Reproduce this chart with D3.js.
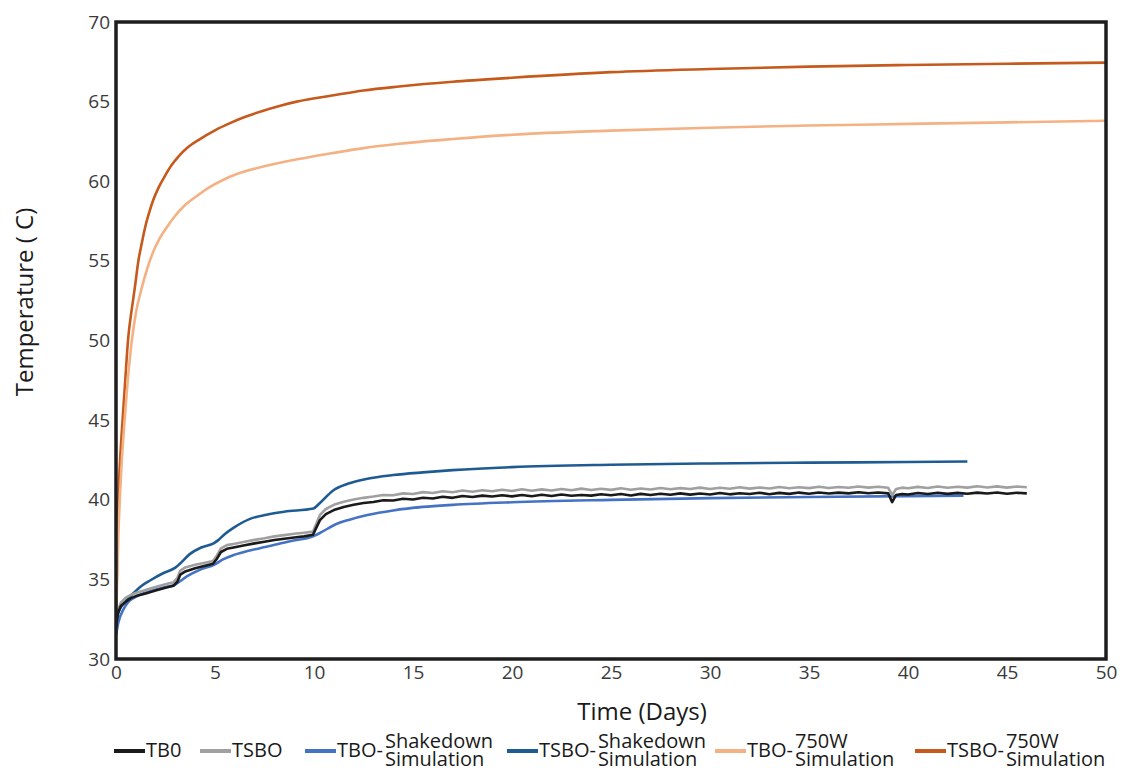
<!DOCTYPE html>
<html><head><meta charset="utf-8">
<script src="https://cdn.jsdelivr.net/npm/d3@7"></script>
<style>
html,body{margin:0;padding:0;background:#fff;}
svg{display:block;}
</style></head>
<body>
<svg id="chart" width="1125" height="771"></svg>
<script>
// ---------- data ----------
const xTicks = [0,5,10,15,20,25,30,35,40,45,50];
const yTicks = [30,35,40,45,50,55,60,65,70];

const seriesNames = ["TB0","TSBO","TBO-Shakedown Simulation","TSBO-Shakedown Simulation","TBO-750W Simulation","TSBO-750W Simulation"];
const seriesColors = ["#1a1a1a","#a0a0a0","#4472c4","#1f5b93","#f4b183","#c55a1c"];

const tb0 = [[0,32.0],[0.1,32.9],[0.25,33.35],[0.5,33.6],[0.75,33.82],[1,33.95],[1.5,34.12],[2,34.3],[2.5,34.48],[2.9,34.6],[3.1,34.85],[3.25,35.3],[3.5,35.5],[4,35.7],[4.5,35.86],[4.9,35.98],[5.1,36.3],[5.3,36.72],[5.6,36.92],[6,37.02],[6.5,37.14],[7,37.26],[7.5,37.36],[8,37.47],[8.5,37.55],[9,37.63],[9.5,37.7],[9.95,37.8],[10.1,38.2],[10.3,38.72],[10.6,39.1],[11,39.35],[11.5,39.55],[12,39.68],[12.5,39.8],[13,39.86],[13.5,39.97],[14,39.95],[14.5,40.06],[15,40.02],[15.5,40.13],[16,40.08],[16.5,40.19],[17,40.12],[17.5,40.24],[18,40.17],[18.5,40.26],[19,40.2],[19.5,40.28],[20,40.21],[20.5,40.3],[21,40.22],[21.5,40.31],[22,40.24],[22.5,40.33],[23,40.25],[23.5,40.3],[24,40.26],[24.5,40.35],[25,40.28],[25.5,40.36],[26,40.27],[26.5,40.37],[27,40.3],[27.5,40.38],[28,40.31],[28.5,40.4],[29,40.32],[29.5,40.39],[30,40.33],[30.5,40.42],[31,40.34],[31.5,40.41],[32,40.36],[32.5,40.44],[33,40.35],[33.5,40.43],[34,40.37],[34.5,40.45],[35,40.38],[35.5,40.46],[36,40.39],[36.5,40.45],[37,40.4],[37.5,40.47],[38,40.41],[38.5,40.46],[39,40.4],[39.2,39.85],[39.4,40.3],[39.7,40.36],[40,40.33],[40.5,40.42],[41,40.36],[41.5,40.44],[42,40.37],[42.5,40.43],[43,40.38],[43.5,40.45],[44,40.39],[44.5,40.46],[45,40.38],[45.5,40.44],[46,40.4]];

const tsbo = [[0,32.2],[0.1,33.1],[0.25,33.55],[0.5,33.85],[0.75,34.02],[1,34.15],[1.5,34.33],[2,34.52],[2.5,34.7],[2.9,34.82],[3.1,35.1],[3.25,35.55],[3.5,35.75],[4,35.92],[4.5,36.05],[4.9,36.15],[5.1,36.5],[5.3,36.95],[5.6,37.15],[6,37.24],[6.5,37.36],[7,37.48],[7.5,37.58],[8,37.7],[8.5,37.78],[9,37.86],[9.5,37.93],[9.95,38.0],[10.1,38.45],[10.3,39.05],[10.6,39.42],[11,39.68],[11.5,39.88],[12,40.02],[12.5,40.12],[13,40.2],[13.5,40.3],[14,40.28],[14.5,40.4],[15,40.36],[15.5,40.48],[16,40.42],[16.5,40.53],[17,40.47],[17.5,40.58],[18,40.5],[18.5,40.6],[19,40.53],[19.5,40.63],[20,40.55],[20.5,40.66],[21,40.57],[21.5,40.65],[22,40.58],[22.5,40.68],[23,40.6],[23.5,40.7],[24,40.61],[24.5,40.69],[25,40.62],[25.5,40.72],[26,40.63],[26.5,40.71],[27,40.64],[27.5,40.74],[28,40.66],[28.5,40.73],[29,40.67],[29.5,40.76],[30,40.68],[30.5,40.75],[31,40.69],[31.5,40.78],[32,40.7],[32.5,40.77],[33,40.71],[33.5,40.8],[34,40.72],[34.5,40.79],[35,40.73],[35.5,40.82],[36,40.74],[36.5,40.8],[37,40.75],[37.5,40.83],[38,40.76],[38.5,40.82],[39,40.75],[39.2,40.3],[39.4,40.68],[39.7,40.76],[40,40.72],[40.5,40.81],[41,40.74],[41.5,40.83],[42,40.75],[42.5,40.82],[43,40.76],[43.5,40.85],[44,40.77],[44.5,40.84],[45,40.76],[45.5,40.83],[46,40.78]];

const tboShakedown = [[0,31.5],[0.12,32.3],[0.37,33.1],[0.6,33.55],[1,33.9],[1.5,34.17],[2,34.37],[2.5,34.52],[2.95,34.65],[3.2,34.85],[3.6,35.2],[4.2,35.58],[5.0,35.95],[5.4,36.25],[5.95,36.53],[6.7,36.8],[7.6,37.05],[8.8,37.4],[9.95,37.7],[10.4,37.98],[11,38.4],[11.8,38.75],[12.7,39.04],[14,39.33],[15.5,39.55],[17,39.68],[20,39.84],[25,39.99],[30,40.1],[35,40.17],[40,40.23],[42.8,40.26]];

const tsboShakedown = [[0,32.0],[0.12,32.9],[0.4,33.5],[0.88,34.13],[1.3,34.6],[1.72,34.93],[2.4,35.4],[2.98,35.72],[3.2,35.95],[3.74,36.6],[4.3,37.0],[4.95,37.28],[5.15,37.45],[5.5,37.85],[5.95,38.25],[6.77,38.8],[7.6,39.06],[8.5,39.25],[9.97,39.45],[10.3,39.8],[10.98,40.6],[11.7,41.0],[12.7,41.32],[14,41.55],[15.5,41.72],[17,41.86],[20,42.05],[25,42.2],[30,42.28],[35,42.33],[40,42.37],[43,42.4]];

const tbo750 = [[0,31.5],[0.02,33],[0.06,35],[0.12,37.8],[0.2,40.2],[0.28,42.2],[0.37,43.9],[0.54,46.7],[0.79,49.9],[1.0,51.7],[1.3,53.3],[1.6,54.6],[1.89,55.6],[2.2,56.4],[2.56,57.1],[3.0,57.85],[3.4,58.4],[4.0,59.0],[4.75,59.65],[5.4,60.08],[6.1,60.45],[7.6,60.97],[9.47,61.45],[11,61.78],[12.5,62.08],[14.3,62.35],[17,62.65],[20,62.92],[25,63.18],[30,63.36],[35,63.5],[40,63.6],[45,63.7],[50,63.8]];

const tsbo750 = [[0,31.5],[0.02,33.5],[0.05,35.8],[0.1,39],[0.15,41],[0.22,42.8],[0.29,44.2],[0.45,47.2],[0.62,50.2],[0.8,52.0],[0.96,53.4],[1.13,55.0],[1.3,56.1],[1.47,57.1],[1.68,58.05],[1.89,58.85],[2.15,59.6],[2.48,60.35],[2.8,61.0],[3.15,61.55],[3.6,62.1],[4.24,62.65],[5.0,63.2],[5.76,63.65],[6.5,64.03],[7.44,64.43],[8.3,64.74],[9.13,65.0],[11,65.4],[12.5,65.7],[14.3,65.95],[17,66.25],[20,66.5],[25,66.85],[30,67.05],[35,67.2],[40,67.3],[45,67.38],[50,67.45]];

const seriesData = [tb0, tsbo, tboShakedown, tsboShakedown, tbo750, tsbo750];

// legend text
const legendPrefix = ["TB0","TSBO","TBO-","TSBO-","TBO-","TSBO-"];
const legendTop = ["","","Shakedown","Shakedown","750W","750W"];
const legendBottom = ["","","Simulation","Simulation","Simulation","Simulation"];

// ---------- layout ----------
const svg = d3.select("#chart");
const W = 1125, H = 771;
const m = {left:116, top:22, right:19, bottom:112};
const pw = W - m.left - m.right, ph = H - m.top - m.bottom;

const x = d3.scaleLinear().domain([0,50]).range([m.left, m.left+pw]);
const y = d3.scaleLinear().domain([30,70]).range([m.top+ph, m.top]);

const tickFont = "'Open Sans', 'DejaVu Sans', sans-serif";

svg.append("defs").append("clipPath").attr("id","clip")
  .append("rect").attr("x",m.left).attr("y",m.top).attr("width",pw).attr("height",ph);

// axes
const xAxis = svg.append("g").attr("transform",`translate(0,${m.top+ph})`)
  .call(d3.axisBottom(x).tickValues(xTicks).tickSize(0).tickPadding(7));
const yAxis = svg.append("g").attr("transform",`translate(${m.left},0)`)
  .call(d3.axisLeft(y).tickValues(yTicks).tickSize(0).tickPadding(6));
[xAxis,yAxis].forEach(a=>{
  a.select(".domain").remove();
  a.selectAll("text").attr("font-family",tickFont).attr("font-size",19).attr("fill","#3a3a3a");
});

// lines
const line = d3.line().x(d=>x(d[0])).y(d=>y(d[1]));
const drawOrder = [5,4,3,2,1,0];
const g = svg.append("g").attr("clip-path","url(#clip)");
drawOrder.forEach(i=>{
  const smooth = i>=2;
  g.append("path")
    .datum(seriesData[i])
    .attr("fill","none")
    .attr("stroke",seriesColors[i])
    .attr("stroke-width", 2.6)
    .attr("stroke-linejoin","round")
    .attr("d", line.curve(smooth ? d3.curveMonotoneX : d3.curveLinear)(seriesData[i]));
});

// frame
svg.append("rect").attr("x",m.left).attr("y",m.top).attr("width",pw).attr("height",ph)
  .attr("fill","none").attr("stroke","#1e1e1e").attr("stroke-width",3.5);

// axis titles
svg.append("text").attr("x",642).attr("y",720).attr("text-anchor","middle")
  .attr("font-family",tickFont).attr("font-size",24).attr("fill","#1a1a1a").text("Time (Days)");
svg.append("text").attr("transform",`translate(33,302) rotate(-90)`).attr("text-anchor","middle")
  .attr("font-family",tickFont).attr("font-size",24).attr("fill","#1a1a1a").text("Temperature ( C)");

// legend
const legendFont = "'Open Sans', sans-serif";
const legendStarts = [114, 200, 305, 507, 715, 915];
const ly = 751;
legendStarts.forEach((sx,i)=>{
  const lg = svg.append("g");
  lg.append("line").attr("x1",sx).attr("x2",sx+31).attr("y1",ly).attr("y2",ly)
    .attr("stroke",seriesColors[i]).attr("stroke-width",4);
  const t = lg.append("text").attr("x",sx+32).attr("y",ly+6)
    .attr("font-family",legendFont).attr("font-size",20).attr("fill","#1a1a1a").text(legendPrefix[i]);
  if (legendTop[i]) {
    const w = t.node().getComputedTextLength();
    lg.append("text").attr("x",sx+32+w+2).attr("y",ly-3)
      .attr("font-family",legendFont).attr("font-size",20).attr("fill","#1a1a1a").text(legendTop[i]);
    lg.append("text").attr("x",sx+32+w+2).attr("y",ly+15)
      .attr("font-family",legendFont).attr("font-size",20).attr("fill","#1a1a1a").text(legendBottom[i]);
  }
});
</script>
</body></html>
